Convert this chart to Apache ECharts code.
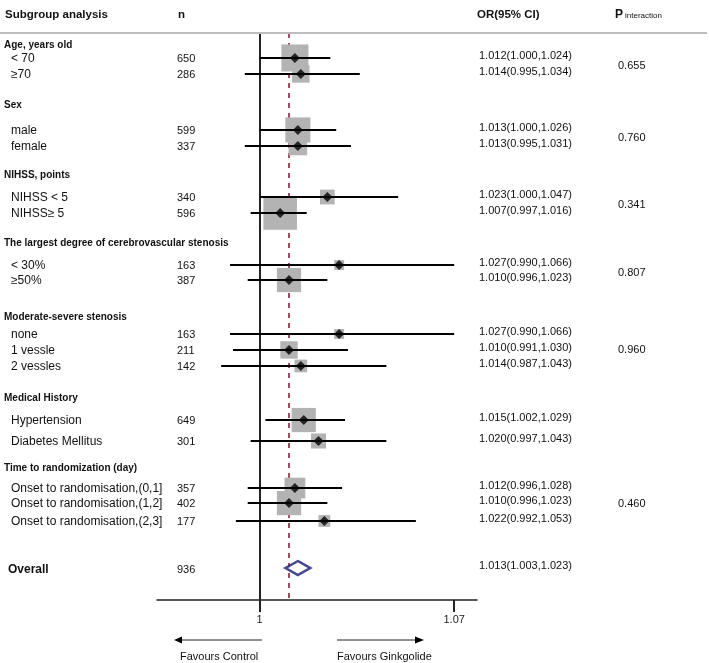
<!DOCTYPE html>
<html><head><meta charset="utf-8">
<script src="https://cdn.jsdelivr.net/npm/echarts@6/dist/echarts.min.js"></script>
<style>html,body{margin:0;padding:0;background:#fff}#c{width:709px;height:663px}</style>
</head><body><div id="c"></div>
<script>
// ---------------- DATA ----------------
const groupTitles = ['Age, years old', 'Sex', 'NIHSS, points', 'The largest degree of cerebrovascular stenosis',
  'Moderate-severe stenosis', 'Medical History', 'Time to randomization (day)'];
const groupSizes = [2, 2, 2, 2, 3, 2, 3];
const pValues = ['0.655', '0.760', '0.341', '0.807', '0.960', '', '0.460'];
const subgroupLabels = ['< 70', '\u226570', 'male', 'female', 'NIHSS < 5', 'NIHSS\u2265 5', '< 30%', '\u226550%',
  'none', '1 vessle', '2 vessles', 'Hypertension', 'Diabetes Mellitus',
  'Onset to randomisation,(0,1]', 'Onset to randomisation,(1,2]', 'Onset to randomisation,(2,3]'];
const nValues = [650, 286, 599, 337, 340, 596, 163, 387, 163, 211, 142, 649, 301, 357, 402, 177];
const orValues = [1.012, 1.014, 1.013, 1.013, 1.023, 1.007, 1.027, 1.010, 1.027, 1.010, 1.014, 1.015, 1.020, 1.012, 1.010, 1.022];
const ciLow = [1.000, 0.995, 1.000, 0.995, 1.000, 0.997, 0.990, 0.996, 0.990, 0.991, 0.987, 1.002, 0.997, 0.996, 0.996, 0.992];
const ciHigh = [1.024, 1.034, 1.026, 1.031, 1.047, 1.016, 1.066, 1.023, 1.066, 1.030, 1.043, 1.029, 1.043, 1.028, 1.023, 1.053];
const overallLabel = 'Overall';
const overallN = 936;
const overallOR = 1.013;
const overallLow = 1.003;
const overallHigh = 1.023;
const columnHeaders = ['Subgroup analysis', 'n', 'OR(95% CI)', 'P', 'interaction'];
const arrowLabels = ['Favours Control', 'Favours Ginkgolide'];

// ---------------- LAYOUT (row positions in row units, 1 unit = 16px) ----------------
const groupTitlePos = [0.75, 4.5, 8.875, 13.125, 17.75, 22.8, 27.2];
const rowPos = [1.56, 2.56, 6.06, 7.06, 10.25, 11.25, 14.5, 15.44, 18.81, 19.81, 20.81, 24.19, 25.5, 28.44, 29.38, 30.5];
const overallPos = 33.44;
const X_MIN = 0.96525, X_MAX = 1.07373;
const Y_MAX = 35.4375;
const FONT = '"Liberation Sans", Arial, sans-serif';
const TXT = '#111';

// ticks: null line and the widest CI limit
const tickValues = [1, Math.max.apply(null, ciHigh)];

// ---------------- BUILD ----------------
const rowsData = orValues.map((v, i) => [v, rowPos[i], ciLow[i], ciHigh[i]]);

const textRows = [];
let k = 0;
groupTitles.forEach((t, g) => {
  textRows.push({ kind: 'title', text: t, pos: groupTitlePos[g] });
  let sum = 0;
  for (let j = 0; j < groupSizes[g]; j++) {
    const i = k + j;
    sum += rowPos[i];
    textRows.push({ kind: 'row', label: subgroupLabels[i], n: String(nValues[i]),
      orText: orValues[i].toFixed(3) + '(' + ciLow[i].toFixed(3) + ',' + ciHigh[i].toFixed(3) + ')', pos: rowPos[i] });
  }
  if (pValues[g]) textRows.push({ kind: 'p', text: pValues[g], pos: sum / groupSizes[g] });
  k += groupSizes[g];
});
textRows.push({ kind: 'overall', label: overallLabel, n: String(overallN),
  orText: overallOR.toFixed(3) + '(' + overallLow.toFixed(3) + ',' + overallHigh.toFixed(3) + ')', pos: overallPos });

function t(x, y, text, size, weight) {
  return { type: 'text', x: x, y: y, silent: true,
    style: { text: text, fontSize: size, fontFamily: FONT, fontWeight: weight || 'normal', fill: TXT, verticalAlign: 'middle', align: 'left' } };
}

const chart = echarts.init(document.getElementById('c'), null, { renderer: 'canvas' });
chart.setOption({
  animation: false,
  backgroundColor: '#fff',
  grid: { left: 157, right: 232, top: 33, bottom: 63, containLabel: false, outerBoundsMode: 'none' },
  xAxis: {
    type: 'value', min: X_MIN, max: X_MAX,
    splitLine: { show: false },
    axisLine: { show: true, onZero: false, lineStyle: { color: '#222', width: 1.5 } },
    axisTick: { show: true, customValues: tickValues, length: 12, lineStyle: { color: '#222', width: 2 } },
    axisLabel: { show: true, customValues: tickValues, margin: 14, fontSize: 11, fontFamily: FONT, color: '#222',
      formatter: v => (v === 1 ? '1' : v.toFixed(2)) }
  },
  yAxis: { type: 'value', min: 0, max: Y_MAX, inverse: true, show: false },
  series: [
    { // weight boxes
      type: 'custom', z: 2, clip: false,
      data: rowsData,
      renderItem: function (params, api) {
        const c = api.coord([api.value(0), api.value(1)]);
        const s = 0.6 / (api.value(3) - api.value(2)) + 2;
        return { type: 'rect', shape: { x: c[0] - s / 2, y: c[1] - s / 2, width: s, height: s },
          style: { fill: '#b3b3b3' } };
      }
    },
    { // confidence intervals
      type: 'custom', z: 3, clip: false,
      data: rowsData,
      renderItem: function (params, api) {
        const a = api.coord([api.value(2), api.value(1)]);
        const b = api.coord([api.value(3), api.value(1)]);
        return { type: 'line', shape: { x1: a[0], y1: a[1], x2: b[0], y2: b[1] },
          style: { stroke: '#000', lineWidth: 2 } };
      }
    },
    { // point estimates
      type: 'scatter', z: 4, symbol: 'diamond', symbolSize: 10,
      itemStyle: { color: '#000' },
      data: rowsData.map(r => [r[0], r[1]]),
      markLine: {
        silent: true, symbol: 'none', label: { show: false }, z: 1,
        data: [
          { xAxis: 1, lineStyle: { color: '#222', type: 'solid', width: 2 } },
          { xAxis: overallOR, lineStyle: { color: '#962035', type: [5, 5], width: 1.6 } }
        ]
      }
    },
    { // overall
      type: 'scatter', z: 5, symbol: 'diamond', symbolSize: [25, 14],
      itemStyle: { color: '#fff', borderColor: '#141c78', borderWidth: 2.6 },
      data: [[overallOR, overallPos]]
    },
    { // text table
      type: 'custom', z: 6, clip: false, silent: true,
      data: textRows.map(r => [X_MIN, r.pos]),
      renderItem: function (params, api) {
        const r = textRows[params.dataIndex];
        const y = api.coord([X_MIN, r.pos])[1];
        const ch = [];
        if (r.kind === 'title') ch.push(t(4, y, r.text, 10, 'bold'));
        else if (r.kind === 'p') ch.push(t(618, y, r.text, 11));
        else if (r.kind === 'row') {
          ch.push(t(11, y + 0.5, r.label, 12));
          ch.push(t(177, y + 1, r.n, 11));
          ch.push(t(479, y - 2, r.orText, 11));
        } else {
          ch.push(t(8, y + 2, r.label, 12, 'bold'));
          ch.push(t(177, y + 2, r.n, 11));
          ch.push(t(479, y - 2, r.orText, 11));
        }
        return { type: 'group', children: ch };
      }
    }
  ],
  graphic: [
    { type: 'line', shape: { x1: 0, y1: 33, x2: 707, y2: 33 }, style: { stroke: '#bdbdbd', lineWidth: 2 }, z: 10 },
    t(5, 15, columnHeaders[0], 11.5, 'bold'),
    t(178, 15, columnHeaders[1], 11.5, 'bold'),
    t(477, 15, columnHeaders[2], 11.5, 'bold'),
    t(615, 15, columnHeaders[3], 12, 'bold'),
    t(625, 16, columnHeaders[4], 8),
    { type: 'line', shape: { x1: 180, y1: 640, x2: 262, y2: 640 }, style: { stroke: '#222', lineWidth: 1 } },
    { type: 'polygon', shape: { points: [[174, 640], [182, 636.5], [182, 643.5]] }, style: { fill: '#000' } },
    { type: 'line', shape: { x1: 337, y1: 640, x2: 418, y2: 640 }, style: { stroke: '#222', lineWidth: 1 } },
    { type: 'polygon', shape: { points: [[424, 640], [415, 636.5], [415, 643.5]] }, style: { fill: '#000' } },
    t(180, 657, arrowLabels[0], 11),
    t(337, 657, arrowLabels[1], 11)
  ]
});
</script></body></html>
